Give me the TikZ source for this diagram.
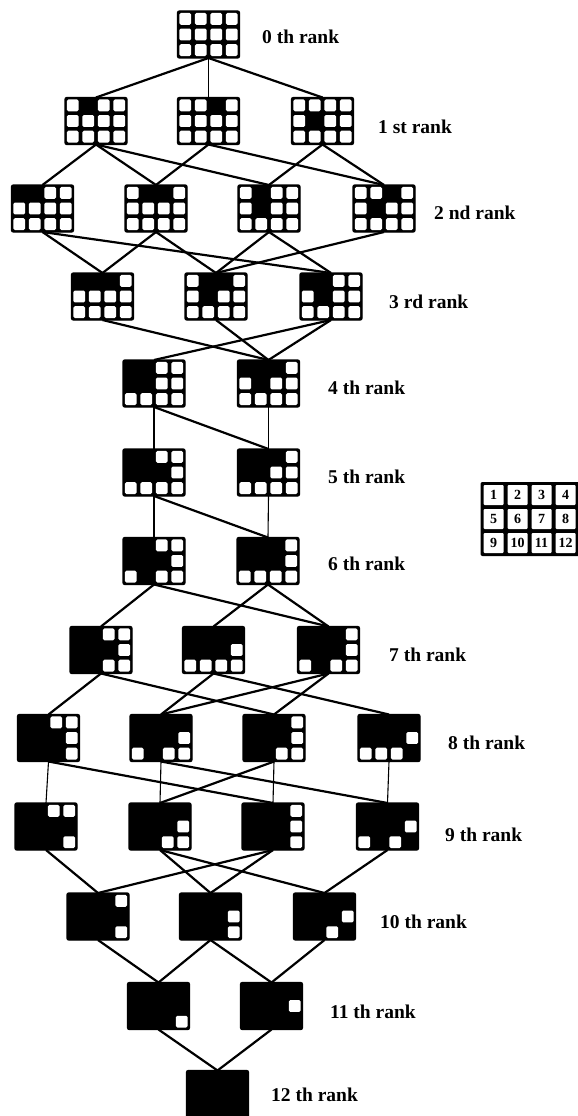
\documentclass[tikz,border=0pt]{standalone}
\usepackage{fontspec}
\setmainfont{Liberation Serif}
\usetikzlibrary{calc}

\tikzset{
  gridbox/.style={draw, fill=black, line width=1.4pt, rounded corners=2pt,
    minimum width=62pt, minimum height=47pt, inner sep=0pt, outer sep=0pt},
  link/.style={line width=2.2pt},
  vlink/.style={line width=1.1pt},
  ranklabel/.style={anchor=west, inner sep=0pt, font=\bfseries\fontsize{19.5}{21}\selectfont},
  legendcell/.style={fill=white, rounded corners=1pt, minimum width=20pt, minimum height=20pt,
    inner sep=0pt, font=\bfseries\fontsize{14}{16}\selectfont}
}

% 3x4 grid; #4 = cells that stay white
\newcommand{\rankgrid}[4]{%
  \node[gridbox] (#1) at (#2,#3) {};
  \foreach \c in {#4} {
    \pgfmathtruncatemacro{\cx}{mod(\c-1,4)}
    \pgfmathtruncatemacro{\cy}{(\c-1)/4}
    \fill[white, rounded corners=1.5pt]
      ($(#1.north west)+(\cx*15.5+1.9,\cy*15.67+1.9)$) rectangle ++(11.7,11.87);
  }%
}

\begin{document}
\begin{tikzpicture}[x=1pt,y=-1pt]
    \useasboundingbox (0,0) rectangle (578,1116);

    % Rank 0
    \rankgrid{g0}{208.5}{34.5}{1,...,12}
    % Rank 1
    \rankgrid{g1a}{96}{121}{1,3,4,5,6,7,8,9,10,11,12}
    \rankgrid{g1b}{208.5}{121}{1,2,4,5,6,7,8,9,10,11,12}
    \rankgrid{g1c}{322.5}{121}{1,2,3,4,5,7,8,9,10,11,12}
    % Rank 2
    \rankgrid{g2a}{42.5}{208.5}{3,4,5,6,7,8,9,10,11,12}
    \rankgrid{g2b}{156}{208.5}{1,4,5,6,7,8,9,10,11,12}
    \rankgrid{g2c}{269}{208.5}{1,3,4,5,7,8,9,10,11,12}
    \rankgrid{g2d}{384}{208.5}{1,2,4,5,7,8,9,10,11,12}
    % Rank 3
    \rankgrid{g3a}{102.5}{296.5}{4,5,6,7,8,9,10,11,12}
    \rankgrid{g3b}{216}{296.5}{1,4,5,7,8,9,10,11,12}
    \rankgrid{g3c}{331}{296.5}{3,4,5,7,8,9,10,11,12}
    % Rank 4
    \rankgrid{g4a}{154}{383.5}{3,4,7,8,9,10,11,12}
    \rankgrid{g4b}{268.5}{383.5}{4,5,7,8,9,10,11,12}
    % Rank 5
    \rankgrid{g5a}{154}{472.5}{3,4,8,9,10,11,12}
    \rankgrid{g5b}{268.5}{472.5}{4,7,8,9,10,11,12}
    % Rank 6
    \rankgrid{g6a}{154}{561}{3,4,8,9,11,12}
    \rankgrid{g6b}{268}{561}{4,8,9,10,11,12}
    % Rank 7
    \rankgrid{g7a}{101}{650}{3,4,8,11,12}
    \rankgrid{g7b}{213.5}{650}{8,9,10,11,12}
    \rankgrid{g7c}{328.5}{650}{4,8,9,11,12}
    % Rank 8
    \rankgrid{g8a}{48.5}{738}{3,4,8,12}
    \rankgrid{g8b}{161}{738}{8,9,11,12}
    \rankgrid{g8c}{274}{738}{4,8,11,12}
    \rankgrid{g8d}{389}{738}{8,9,10,11}
    % Rank 9
    \rankgrid{g9a}{46}{826.5}{3,4,12}
    \rankgrid{g9b}{160}{826.5}{8,11,12}
    \rankgrid{g9c}{273}{826.5}{4,8,12}
    \rankgrid{g9d}{387.5}{826.5}{8,9,11}
    % Rank 10
    \rankgrid{g10a}{98}{916.5}{4,12}
    \rankgrid{g10b}{210.5}{916.5}{8,12}
    \rankgrid{g10c}{324.5}{916.5}{8,11}
    % Rank 11
    \rankgrid{g11a}{158.5}{1006}{12}
    \rankgrid{g11b}{271.5}{1006}{8}
    % Rank 12
    \node[gridbox] (g12) at (217.5,1094) {};

    % Links
    \draw[link] (g0.south) -- (g1a.north);
    \draw[vlink] (g0.south) -- (g1b.north);
    \draw[link] (g0.south) -- (g1c.north);

    \draw[link] (g1a.south) -- (g2a.north);
    \draw[link] (g1a.south) -- (g2b.north);
    \draw[link] (g1a.south) -- (g2c.north);
    \draw[link] (g1b.south) -- (g2b.north);
    \draw[link] (g1b.south) -- (g2d.north);
    \draw[link] (g1c.south) -- (g2c.north);
    \draw[link] (g1c.south) -- (g2d.north);

    \draw[link] (g2a.south) -- (g3a.north);
    \draw[link] (g2a.south) -- (g3c.north);
    \draw[link] (g2b.south) -- (g3a.north);
    \draw[link] (g2b.south) -- (g3b.north);
    \draw[link] (g2c.south) -- (g3b.north);
    \draw[link] (g2c.south) -- (g3c.north);
    \draw[link] (g2d.south) -- (g3b.north);

    \draw[link] (g3a.south) -- (g4b.north);
    \draw[link] (g3b.south) -- (g4b.north);
    \draw[link] (g3c.south) -- (g4a.north);
    \draw[link] (g3c.south) -- (g4b.north);

    \draw[vlink] (g4a.south) -- (g5a.north);
    \draw[link] (g4a.south) -- (g5b.north);
    \draw[vlink] (g4b.south) -- (g5b.north);

    \draw[vlink] (g5a.south) -- (g6a.north);
    \draw[link] (g5a.south) -- (g6b.north);
    \draw[vlink] (g5b.south) -- (g6b.north);

    \draw[link] (g6a.south) -- (g7a.north);
    \draw[link] (g6a.south) -- (g7c.north);
    \draw[link] (g6b.south) -- (g7b.north);
    \draw[link] (g6b.south) -- (g7c.north);

    \draw[link] (g7a.south) -- (g8a.north);
    \draw[link] (g7a.south) -- (g8c.north);
    \draw[link] (g7b.south) -- (g8b.north);
    \draw[link] (g7b.south) -- (g8d.north);
    \draw[link] (g7c.south) -- (g8b.north);
    \draw[link] (g7c.south) -- (g8c.north);

    \draw[vlink] (g8a.south) -- (g9a.north);
    \draw[link] (g8a.south) -- (g9c.north);
    \draw[vlink] (g8b.south) -- (g9b.north);
    \draw[link] (g8b.south) -- (g9d.north);
    \draw[link] (g8c.south) -- (g9b.north);
    \draw[vlink] (g8c.south) -- (g9c.north);
    \draw[vlink] (g8d.south) -- (g9d.north);

    \draw[link] (g9a.south) -- (g10a.north);
    \draw[link] (g9b.south) -- (g10b.north);
    \draw[link] (g9b.south) -- (g10c.north);
    \draw[link] (g9c.south) -- (g10a.north);
    \draw[link] (g9c.south) -- (g10b.north);
    \draw[link] (g9d.south) -- (g10c.north);

    \draw[link] (g10a.south) -- (g11a.north);
    \draw[link] (g10b.south) -- (g11a.north);
    \draw[link] (g10b.south) -- (g11b.north);
    \draw[link] (g10c.south) -- (g11b.north);

    \draw[link] (g11a.south) -- (g12.north);
    \draw[link] (g11b.south) -- (g12.north);

    % Rank labels
    \node[ranklabel] (l0) at (262,37) {0 th rank};
    \node[ranklabel] (l1) at (378,127) {1 st rank};
    \node[ranklabel] (l2) at (434,213) {2 nd rank};
    \node[ranklabel] (l3) at (389,302) {3 rd rank};
    \node[ranklabel] (l4) at (328,388) {4 th rank};
    \node[ranklabel] (l5) at (328,477) {5 th rank};
    \node[ranklabel] (l6) at (328,564) {6 th rank};
    \node[ranklabel] (l7) at (389,655) {7 th rank};
    \node[ranklabel] (l8) at (448,743) {8 th rank};
    \node[ranklabel] (l9) at (445,835) {9 th rank};
    \node[ranklabel] (l10) at (380,922) {10 th rank};
    \node[ranklabel] (l11) at (330,1012) {11 th rank};
    \node[ranklabel] (l12) at (271,1095) {12 th rank};

    % Cell numbering
    \fill[black, rounded corners=2pt] (480.5,482) rectangle (581,556);
    \foreach \n in {1,...,12} {
        \pgfmathtruncatemacro{\cx}{mod(\n-1,4)}
        \pgfmathtruncatemacro{\cy}{(\n-1)/4}
        \node[legendcell] (cell\n) at (493.5+24*\cx,495+24*\cy) {\n};
    }
\end{tikzpicture}
\end{document}
